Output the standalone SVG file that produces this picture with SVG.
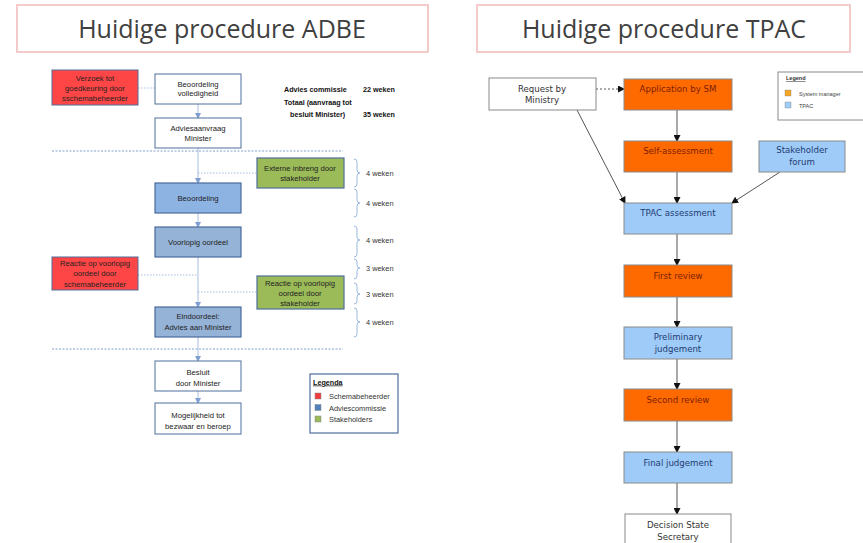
<svg xmlns="http://www.w3.org/2000/svg" width="863" height="543" viewBox="0 0 863 543">
<defs>
<style>
.title{fill:#fff;stroke:#F4CACA;stroke-width:2}
.tt{font-family:"Open Sans","Liberation Sans",sans-serif;font-size:25px;fill:#404040;text-anchor:middle}
.l{font-family:"Liberation Sans",Arial,sans-serif;font-size:7.7px;fill:#222;text-anchor:middle}
.lb{font-family:"Liberation Sans",Arial,sans-serif;font-size:7.2px;fill:#111;font-weight:bold}
.lw{font-family:"Liberation Sans",Arial,sans-serif;font-size:7.4px;fill:#333}
.wbox{fill:#fff;stroke:#4F6E9A;stroke-width:1}
.red{fill:#FF4646;stroke:#4F6E9A;stroke-width:1}
.blue{fill:#8DB3E2;stroke:#4A6A9A;stroke-width:1.2}
.green{fill:#9BBB59;stroke:#4F6E9A;stroke-width:1.2}
.vline{stroke:#A7BEDF;stroke-width:1;fill:none}
.dot{stroke:#A7BEDF;stroke-width:1;stroke-dasharray:1.5,1.5;fill:none}
.hdash{stroke:#7F9FD0;stroke-width:1;stroke-dasharray:2,1.5;fill:none}
.brace{stroke:#9DB9E0;stroke-width:1;fill:none}
.r{font-family:"DejaVu Sans",Verdana,sans-serif;font-size:8.6px;text-anchor:middle}
.org{fill:#FF6A00;stroke:#8A8A8A;stroke-width:1}
.lbl{fill:#9ECBF7;stroke:#8A8A8A;stroke-width:1}
.wr{fill:#fff;stroke:#8A8A8A;stroke-width:1}
.to{fill:#7A1E00}
.tb{fill:#1F3B73}
.tw{fill:#333}
.conn{stroke:#555;stroke-width:1;fill:none}
</style>
<marker id="ab" markerWidth="6" markerHeight="6" refX="5" refY="3" orient="auto" markerUnits="userSpaceOnUse">
<path d="M0,0 L6,3 L0,6 z" fill="#7F9FD0"/>
</marker>
<marker id="ak" markerWidth="7" markerHeight="7" refX="6" refY="3.5" orient="auto" markerUnits="userSpaceOnUse">
<path d="M0,0 L7,3.5 L0,7 z" fill="#111"/>
</marker>
</defs>
<rect width="863" height="543" fill="#fff"/>

<!-- Titles -->
<g id="title-adbe"><rect class="title" x="17" y="5" width="411" height="47"/><text class="tt" x="222" y="38">Huidige procedure ADBE</text></g>
<g id="title-tpac"><rect class="title" x="477" y="5" width="373" height="47"/><text class="tt" x="664" y="38">Huidige procedure TPAC</text></g>

<!-- Left connectors -->
<g id="connectors-left">
<line class="dot" x1="138" y1="88" x2="155" y2="88"/>
<line class="vline" x1="198" y1="104" x2="198" y2="118" marker-end="url(#ab)"/>
<line class="vline" x1="198" y1="148" x2="198" y2="183" marker-end="url(#ab)"/>
<line class="vline" x1="198" y1="213" x2="198" y2="227" marker-end="url(#ab)"/>
<line class="vline" x1="198" y1="257" x2="198" y2="307" marker-end="url(#ab)"/>
<line class="vline" x1="198" y1="337" x2="198" y2="361" marker-end="url(#ab)"/>
<line class="vline" x1="198" y1="391" x2="198" y2="403" marker-end="url(#ab)"/>
<line class="dot" x1="198" y1="173" x2="257" y2="173"/>
<line class="dot" x1="138" y1="275" x2="198" y2="275"/>
<line class="dot" x1="198" y1="292" x2="257" y2="292"/>
<line class="hdash" x1="52" y1="151" x2="343" y2="151"/>
<line class="hdash" x1="52" y1="349" x2="343" y2="349"/>
</g>

<!-- Left nodes -->
<g id="verzoek"><rect class="red" x="52" y="70" width="86" height="35"/>
<text class="l" x="95" y="80.5">Verzoek tot</text><text class="l" x="95" y="90.5">goedkeuring door</text><text class="l" x="95" y="100.5">sschemabeheerder</text></g>
<g id="volledigheid"><rect class="wbox" x="155" y="74" width="86" height="30"/>
<text class="l" x="198" y="86.5">Beoordeling</text><text class="l" x="198" y="96">volledigheid</text></g>
<g id="adviesaanvraag"><rect class="wbox" x="155" y="118" width="86" height="30"/>
<text class="l" x="198" y="130.5">Adviesaanvraag</text><text class="l" x="198" y="141">Minister</text></g>
<g id="beoordeling"><rect class="blue" x="155" y="183" width="86" height="30"/>
<text class="l" x="198" y="200.5">Beoordeling</text></g>
<g id="voorlopig"><rect class="blue" x="155" y="227" width="86" height="30" style="fill:#95B3D7"/>
<text class="l" x="198" y="244.5">Voorlopig oordeel</text></g>
<g id="extern"><rect class="green" x="257" y="158" width="87" height="30"/>
<text class="l" x="300" y="170.5">Externe inbreng door</text><text class="l" x="300" y="181">stakeholder</text></g>
<g id="reactie-schema"><rect class="red" x="52" y="257" width="86" height="33"/>
<text class="l" x="95" y="265.5">Reactie op voorlopig</text><text class="l" x="95" y="276">oordeel door</text><text class="l" x="95" y="286.5">schemabeheerder</text></g>
<g id="reactie-stake"><rect class="green" x="257" y="276" width="87" height="33"/>
<text class="l" x="300" y="285.5">Reactie op voorlopig</text><text class="l" x="300" y="295.5">oordeel door</text><text class="l" x="300" y="305.5">stakeholder</text></g>
<g id="eindoordeel"><rect class="blue" x="155" y="307" width="86" height="30" style="fill:#95B3D7"/>
<text class="l" x="198" y="318.5">Eindoordeel:</text><text class="l" x="198" y="329.5">Advies aan Minister</text></g>
<g id="besluit"><rect class="wbox" x="155" y="361" width="86" height="30"/>
<text class="l" x="198" y="374.5">Besluit</text><text class="l" x="198" y="385.5">door Minister</text></g>
<g id="mogelijkheid"><rect class="wbox" x="155" y="403" width="86" height="31"/>
<text class="l" x="198" y="417.5">Mogelijkheid tot</text><text class="l" x="198" y="428.5">bezwaar en beroep</text></g>

<!-- Durations -->
<g id="durations">
<text class="lb" x="284" y="91.5">Advies commissie</text><text class="lb" x="363" y="91.5">22 weken</text>
<text class="lb" x="284" y="105">Totaal (aanvraag tot</text>
<text class="lb" x="290" y="116.5">besluit Minister)</text><text class="lb" x="363" y="116.5">35 weken</text>
<path class="brace" d="M354,159 q3,0 3,3 v8 q0,3 3,3 q-3,0 -3,3 v8 q0,3 -3,3"/>
<text class="lw" x="366" y="175.5">4 weken</text>
<path class="brace" d="M354,189 q3,0 3,3 v8 q0,3 3,3 q-3,0 -3,3 v8 q0,3 -3,3"/>
<text class="lw" x="366" y="205.5">4 weken</text>
<path class="brace" d="M354,226 q3,0 3,3 v8 q0,3 3,3 q-3,0 -3,3 v11 q0,3 -3,3"/>
<text class="lw" x="366" y="242.5">4 weken</text>
<path class="brace" d="M354,259 q3,0 3,3 v3 q0,3 3,3 q-3,0 -3,3 v5 q0,3 -3,3"/>
<text class="lw" x="366" y="270.5">3 weken</text>
<path class="brace" d="M354,283 q3,0 3,3 v5 q0,3 3,3 q-3,0 -3,3 v4 q0,3 -3,3"/>
<text class="lw" x="366" y="296.5">3 weken</text>
<path class="brace" d="M354,308 q3,0 3,3 v8 q0,3 3,3 q-3,0 -3,3 v9 q0,3 -3,3"/>
<text class="lw" x="366" y="324.5">4 weken</text>
</g>

<!-- Legenda -->
<g id="legenda">
<rect x="310" y="374" width="88" height="59" fill="#fff" stroke="#4F6E9A" stroke-width="1.2"/>
<text class="lb" x="313" y="384.5" text-decoration="underline">Legenda</text>
<rect x="315" y="393" width="6" height="6" fill="#F03C3C" stroke="#8A8A8A" stroke-width="0.5"/>
<text class="lw" x="329" y="399">Schemabeheerder</text>
<rect x="315" y="404.5" width="6" height="6" fill="#4F81BD" stroke="#8A8A8A" stroke-width="0.5"/>
<text class="lw" x="329" y="410.5">Adviescommissie</text>
<rect x="315" y="416" width="6" height="6" fill="#9BBB59" stroke="#8A8A8A" stroke-width="0.5"/>
<text class="lw" x="329" y="422">Stakeholders</text>
</g>

<!-- Right connectors -->
<g id="connectors-right">
<line class="conn" x1="596" y1="89" x2="624" y2="89" stroke-dasharray="2,2" marker-end="url(#ak)"/>
<line class="conn" x1="677" y1="110" x2="677" y2="141" marker-end="url(#ak)"/>
<line class="conn" x1="677" y1="172" x2="677" y2="203" marker-end="url(#ak)"/>
<line class="conn" x1="577" y1="110" x2="625" y2="203" marker-end="url(#ak)"/>
<line class="conn" x1="780" y1="172" x2="732" y2="203" marker-end="url(#ak)"/>
<line class="conn" x1="677" y1="234" x2="677" y2="265" marker-end="url(#ak)"/>
<line class="conn" x1="677" y1="297" x2="677" y2="327" marker-end="url(#ak)"/>
<line class="conn" x1="677" y1="359" x2="677" y2="389" marker-end="url(#ak)"/>
<line class="conn" x1="677" y1="421" x2="677" y2="452" marker-end="url(#ak)"/>
<line class="conn" x1="677" y1="483" x2="677" y2="514" marker-end="url(#ak)"/>
</g>

<!-- Right nodes -->
<g id="request"><rect class="wr" x="489" y="78" width="107" height="32"/>
<text class="r tw" x="542" y="92">Request by</text><text class="r tw" x="542" y="103">Ministry</text></g>
<g id="application"><rect class="org" x="624" y="79" width="108" height="31"/>
<text class="r to" x="678" y="92">Application by SM</text></g>
<g id="self"><rect class="org" x="624" y="141" width="108" height="31"/>
<text class="r to" x="678" y="154">Self-assessment</text></g>
<g id="stakeholder-forum"><rect class="lbl" x="759" y="141" width="86" height="31"/>
<text class="r tb" x="802" y="153">Stakeholder</text><text class="r tb" x="802" y="165">forum</text></g>
<g id="tpac"><rect class="lbl" x="624" y="203" width="108" height="31"/>
<text class="r tb" x="678" y="216">TPAC assessment</text></g>
<g id="first"><rect class="org" x="624" y="265" width="108" height="32"/>
<text class="r to" x="678" y="279">First review</text></g>
<g id="prelim"><rect class="lbl" x="624" y="327" width="108" height="32"/>
<text class="r tb" x="678" y="340">Preliminary</text><text class="r tb" x="678" y="352">judgement</text></g>
<g id="second"><rect class="org" x="624" y="389" width="108" height="32"/>
<text class="r to" x="678" y="403">Second review</text></g>
<g id="final"><rect class="lbl" x="624" y="452" width="108" height="31"/>
<text class="r tb" x="678" y="466">Final judgement</text></g>
<g id="decision"><rect class="wr" x="625" y="514" width="106" height="40"/>
<text class="r tw" x="678" y="528">Decision State</text><text class="r tw" x="678" y="540">Secretary</text></g>

<!-- Legend right -->
<g id="legend">
<rect x="778" y="72" width="90" height="48" fill="#fff" stroke="#8A8A8A" stroke-width="1"/>
<text x="786" y="80" font-family="Liberation Sans,Arial,sans-serif" font-size="5.5px" font-weight="bold" fill="#333" text-decoration="underline">Legend</text>
<rect x="785" y="90" width="6" height="6" fill="#F5A623" stroke="#8A8A8A" stroke-width="0.4"/>
<text x="799" y="96" font-family="Liberation Sans,Arial,sans-serif" font-size="5.5px" fill="#444">System manager</text>
<rect x="785" y="102" width="6" height="6" fill="#9ECBF7" stroke="#8A8A8A" stroke-width="0.4"/>
<text x="799" y="107.5" font-family="Liberation Sans,Arial,sans-serif" font-size="5.5px" fill="#444">TPAC</text>
</g>
</svg>
